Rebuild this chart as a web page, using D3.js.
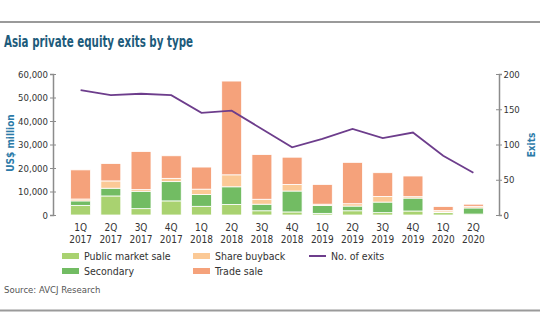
<!DOCTYPE html>
<html>
<head>
<meta charset="utf-8">
<script src="https://cdn.jsdelivr.net/npm/d3@7"></script>
<style>
  body { margin: 0; background: #fff; }
  svg { display: block; font-family: 'Liberation Sans Narrow', 'DejaVu Sans Condensed', Roboto, sans-serif; }
</style>
</head>
<body>
<div id="chart"></div>
<script>
// quarters on the x axis
const quarters = ["1Q 2017", "2Q 2017", "3Q 2017", "4Q 2017", "1Q 2018", "2Q 2018", "3Q 2018",
                  "4Q 2018", "1Q 2019", "2Q 2019", "3Q 2019", "4Q 2019", "1Q 2020", "2Q 2020"];

// US$ million
const publicMarketSale = [4100, 8100, 2700, 6000, 3700, 4500, 1800, 1300, 700, 1800, 1000, 1700, 1000, 400];
const secondary        = [1900, 3300, 7400, 8200, 5000, 7500, 2800, 8900, 3300, 2000, 4500, 5500, 300, 2600];
const shareBuyback     = [800, 3100, 700, 1400, 2300, 5100, 2100, 2800, 600, 1000, 2400, 600, 600, 700];
const tradeSale        = [12400, 7400, 16200, 9600, 9400, 39900, 19000, 11600, 8400, 17600, 10100, 8800, 1700, 900];

// number of exits (right axis)
const exits = [177, 170, 172, 170, 145, 148, 122, 96, 108, 122, 109, 117, 84, 60];

const leftTicks = [0, 10000, 20000, 30000, 40000, 50000, 60000];
const rightTicks = [0, 50, 100, 150, 200];

const series = [
  { key: "public", name: "Public market sale", values: publicMarketSale, color: "#a9d270" },
  { key: "secondary", name: "Secondary", values: secondary, color: "#72bc63" },
  { key: "buyback", name: "Share buyback", values: shareBuyback, color: "#fbc996" },
  { key: "trade", name: "Trade sale", values: tradeSale, color: "#f5a27b" }
];
const lineColor = "#6d3d8c";

const width = 540, height = 334;
const svg = d3.select("#chart").append("svg")
  .attr("width", width)
  .attr("height", height);

// frame lines top and bottom
svg.append("line").attr("x1", 0).attr("x2", width).attr("y1", 22).attr("y2", 22)
  .attr("stroke", "#9a9a9a").attr("stroke-width", 2);
svg.append("line").attr("x1", 0).attr("x2", width).attr("y1", 310.5).attr("y2", 310.5)
  .attr("stroke", "#9a9a9a").attr("stroke-width", 2);

// title
svg.append("text")
  .attr("x", 4).attr("y", 47)
  .attr("fill", "#1d5b7b")
  .attr("font-size", 15)
  .attr("font-weight", "bold")
  .attr("textLength", 189)
  .attr("lengthAdjust", "spacingAndGlyphs")
  .text("Asia private equity exits by type");

const table = quarters.map((q, i) => {
  const row = { q };
  series.forEach(s => row[s.key] = s.values[i]);
  return row;
});

const x = d3.scaleBand()
  .domain(quarters)
  .range([65.5, 488.5])
  .paddingInner(0.34)
  .paddingOuter(0.17);

const y = d3.scaleLinear().domain([0, 60000]).range([215, 74]);
const y2 = d3.scaleLinear().domain([0, 200]).range([215, 74]);

const stack = d3.stack().keys(series.map(s => s.key));
const stacked = stack(table);

// bars
svg.append("g")
  .selectAll("g")
  .data(stacked)
  .join("g")
  .attr("fill", (d, i) => series[i].color)
  .selectAll("rect")
  .data(d => d)
  .join("rect")
  .attr("x", d => x(d.data.q))
  .attr("width", x.bandwidth())
  .attr("y", d => y(d[1]))
  .attr("height", d => Math.max(0, y(d[0]) - y(d[1])))
  .attr("stroke", "#fff")
  .attr("stroke-width", 0.8);

// left axis
const leftAxis = svg.append("g")
  .attr("transform", "translate(53,0)")
  .call(d3.axisLeft(y).tickValues(leftTicks).tickFormat(d3.format(",")).tickSize(3).tickPadding(2));
leftAxis.selectAll(".tick line").attr("x2", 3).attr("x1", -3);

// right axis
const rightAxis = svg.append("g")
  .attr("transform", "translate(499,0)")
  .call(d3.axisRight(y2).tickValues(rightTicks).tickSize(3).tickPadding(1.5));
rightAxis.selectAll(".tick line").attr("x1", -3).attr("x2", 3);

[leftAxis, rightAxis].forEach(a => {
  a.select(".domain").attr("stroke", "#8c8c8c").attr("stroke-width", 1.5);
  a.selectAll(".tick line").attr("stroke", "#8c8c8c");
  a.selectAll(".tick text").attr("fill", "#333").attr("font-size", 9.5);
  a.attr("font-family", null);
});

// x labels, two lines
const xl = svg.append("g")
  .selectAll("text")
  .data(quarters)
  .join("text")
  .attr("x", d => x(d) + x.bandwidth() / 2)
  .attr("text-anchor", "middle")
  .attr("fill", "#333")
  .attr("font-size", 10);
xl.append("tspan").attr("x", d => x(d) + x.bandwidth() / 2).attr("y", 231).text(d => d.split(" ")[0]);
xl.append("tspan").attr("x", d => x(d) + x.bandwidth() / 2).attr("y", 243).text(d => d.split(" ")[1]);

// exits line
svg.append("path")
  .datum(exits)
  .attr("fill", "none")
  .attr("stroke", lineColor)
  .attr("stroke-width", 1.8)
  .attr("d", d3.line()
    .x((d, i) => x(quarters[i]) + x.bandwidth() / 2)
    .y(d => y2(d)));

// axis titles
svg.append("text")
  .attr("transform", "translate(14,143) rotate(-90)")
  .attr("text-anchor", "middle")
  .attr("fill", "#2b7aa8")
  .attr("font-size", 10)
  .attr("font-weight", "bold")
  .text("US$ million");
svg.append("text")
  .attr("transform", "translate(535,145) rotate(-90)")
  .attr("text-anchor", "middle")
  .attr("fill", "#2b7aa8")
  .attr("font-size", 10)
  .attr("font-weight", "bold")
  .text("Exits");

// legend
const legendItems = [
  { name: "Public market sale", color: series[0].color, col: 0, row: 0 },
  { name: "Secondary", color: series[1].color, col: 0, row: 1 },
  { name: "Share buyback", color: series[2].color, col: 1, row: 0 },
  { name: "Trade sale", color: series[3].color, col: 1, row: 1 }
];
const colX = [62, 193];
const rowY = [256, 271];
const lg = svg.append("g").selectAll("g").data(legendItems).join("g")
  .attr("transform", d => `translate(${colX[d.col]},${rowY[d.row]})`);
lg.append("rect").attr("x", 0).attr("y", -3).attr("width", 17).attr("height", 6).attr("fill", d => d.color);
lg.append("text").attr("x", 22).attr("y", 4).attr("font-size", 10.5).attr("fill", "#333").text(d => d.name);

const ll = svg.append("g").attr("transform", `translate(309,${rowY[0]})`);
ll.append("line").attr("x1", 0).attr("x2", 17).attr("stroke", lineColor).attr("stroke-width", 2);
ll.append("text").attr("x", 22).attr("y", 4).attr("font-size", 10.5).attr("fill", "#333").text("No. of exits");

// source
svg.append("text")
  .attr("x", 4).attr("y", 293)
  .attr("font-size", 9.5)
  .attr("fill", "#555")
  .text("Source: AVCJ Research");
</script>
</body>
</html>
